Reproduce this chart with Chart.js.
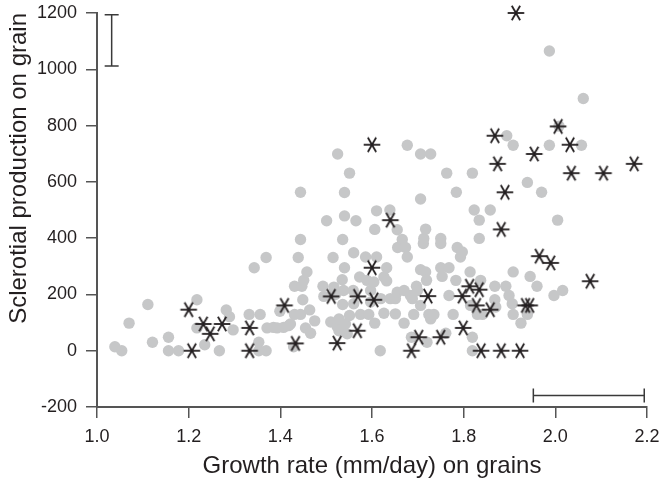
<!DOCTYPE html>
<html>
<head>
<meta charset="utf-8">
<script src="https://cdn.jsdelivr.net/npm/chart.js@4/dist/chart.umd.min.js"></script>
<style>
  html,body{margin:0;padding:0;background:#fff}
  #wrap{width:661px;height:482px;position:relative}
</style>
</head>
<body>
<div id="wrap"><canvas id="chart"></canvas></div>
<script>
// ---- datos ----
const growthGray = [1.039,1.054,1.070,1.111,1.121,1.156,1.156,1.178,1.218,1.218,1.235,1.267,1.282,1.289,1.297,1.332,1.356,1.353,1.353,1.369,
  1.343,1.369,1.371,1.385,1.393,1.399,1.407,1.418,1.422,1.429,1.431,1.431,1.439,1.444,1.444,1.444,1.447,1.449,1.451,1.455,
  1.458,1.464,1.466,1.475,1.493,1.495,1.501,1.510,1.515,1.517,1.520,1.524,1.525,1.528,1.528,1.535,1.536,1.536,1.538,1.540,
  1.540,1.540,1.542,1.546,1.551,1.551,1.559,1.560,1.560,1.565,1.573,1.575,1.586,1.589,1.593,1.597,1.597,1.606,1.604,1.606,
  1.610,1.610,1.618,1.619,1.626,1.626,1.632,1.632,1.639,1.640,1.651,1.651,1.655,1.655,1.656,1.666,1.670,1.670,1.673,1.677,
  1.677,1.684,1.686,1.688,1.691,1.697,1.699,1.706,1.706,1.706,1.706,1.712,1.713,1.717,1.717,1.719,1.720,1.724,1.728,1.728,
  1.735,1.750,1.750,1.750,1.753,1.761,1.763,1.768,1.768,1.777,1.783,1.784,1.786,1.793,1.797,1.814,1.815,1.819,1.819,1.819,
  1.823,1.830,1.834,1.834,1.837,1.841,1.858,1.868,1.868,1.870,1.892,1.894,1.899,1.906,1.908,1.908,1.908,1.925,1.939,1.939,
  1.945,1.960,1.970,1.987,1.987,1.997,2.005,2.008,2.016,2.057,2.061];
const sclerGray = [14,0,98,164,30,48,0,0,181,81,21,0,145,121,74,129,129,30,0,0,
  295,331,81,83,81,140,83,89,95,14,129,229,331,395,563,129,229,181,250,81,
  280,145,62,106,229,193,462,102,331,226,200,86,699,113,71,252,395,164,214,562,
  479,295,95,60,125,631,214,348,167,462,262,129,333,250,129,214,173,98,244,431,
  333,497,0,185,262,133,295,248,500,185,185,131,430,208,367,395,214,98,367,730,
  333,196,48,185,129,229,214,699,539,288,161,381,399,432,280,250,30,129,699,113,
  129,399,381,295,264,62,631,295,196,129,250,563,367,333,351,280,161,631,48,0,
  500,129,464,399,250,129,500,229,181,155,229,764,196,167,730,280,129,98,598,129,
  264,229,563,1065,730,196,464,798,214,730,896];

const growthStar = [1.200,1.207,1.232,1.247,1.273,1.333,1.333,1.409,1.433,1.511,1.524,1.569,1.568,1.604,1.600,1.600,
  1.640,1.686,1.702,1.722,1.750,1.797,1.799,1.813,1.828,1.834,1.838,1.858,1.868,1.874,1.882,1.882,1.890,1.914,1.923,
  1.935,1.944,1.954,1.965,1.990,2.006,2.032,2.035,2.076,2.105,2.172];
const sclerStar = [146,0,95,60,95,81,0,161,26,193,27,193,71,181,295,732,
  464,0,48,194,48,194,81,229,161,217,0,146,764,664,431,0,563,1200,0,
  161,161,699,336,312,797,732,631,247,631,664];

// barras de error: [x, yDesde, yHasta] y [y, xDesde, xHasta]
const errVertical = [1.032, 1012, 1194];
const errHorizontal = [-159, 1.952, 2.194];

const xTicks = [1.0, 1.2, 1.4, 1.6, 1.8, 2.0, 2.2];
const yTicks = [-200, 0, 200, 400, 600, 800, 1000, 1200];

// ---- marcador asterisco (6 puntas) ----
function crearAsterisco() {
  const c = document.createElement('canvas');
  c.width = 20; c.height = 18;
  const g = c.getContext('2d');
  g.strokeStyle = '#231f20'; g.lineWidth = 1.8; g.lineCap = 'butt';
  const cx = 10, cy = 9, r = 8.3;
  [0, 60, 120].forEach(a => {
    const t = a * Math.PI / 180;
    g.beginPath();
    g.moveTo(cx - r*Math.cos(t), cy - r*Math.sin(t));
    g.lineTo(cx + r*Math.cos(t), cy + r*Math.sin(t));
    g.stroke();
  });
  return c;
}

const errorBars = {
  id: 'errorBars',
  afterDatasetsDraw(chart) {
    const {ctx, scales:{x, y}} = chart, cap = 7;
    ctx.save();
    ctx.strokeStyle = '#3a3a3a'; ctx.lineWidth = 1.5;
    const vx = x.getPixelForValue(errVertical[0]), vy0 = y.getPixelForValue(errVertical[1]), vy1 = y.getPixelForValue(errVertical[2]);
    ctx.beginPath();
    ctx.moveTo(vx, vy0); ctx.lineTo(vx, vy1);
    ctx.moveTo(vx-cap, vy0); ctx.lineTo(vx+cap, vy0);
    ctx.moveTo(vx-cap, vy1); ctx.lineTo(vx+cap, vy1);
    const hy = y.getPixelForValue(errHorizontal[0]), hx0 = x.getPixelForValue(errHorizontal[1]), hx1 = x.getPixelForValue(errHorizontal[2]);
    ctx.moveTo(hx0, hy); ctx.lineTo(hx1, hy);
    ctx.moveTo(hx0, hy-cap); ctx.lineTo(hx0, hy+cap);
    ctx.moveTo(hx1, hy-cap); ctx.lineTo(hx1, hy+cap);
    ctx.stroke();
    ctx.restore();
  }
};

// el area del grafico la fija layout.padding, no el tamaño de las etiquetas
function sinRelleno(s) { s.paddingLeft = 0; s.paddingRight = 0; s.paddingTop = 0; s.paddingBottom = 0; }

const font = '"Liberation Sans", Arial, Helvetica, sans-serif';
const axisColor = '#555';
const textColor = '#231f20';

new Chart(document.getElementById('chart'), {
  type: 'scatter',
  data: {
    datasets: [
      { label: 'gris', order: 1, clip: false, data: growthGray.map((v,i)=>({x:v, y:sclerGray[i]})),
        pointStyle: 'circle', pointRadius: 5.7, backgroundColor: '#c6c7c8', borderWidth: 0 },
      { label: 'asterisco', order: 0, clip: false, data: growthStar.map((v,i)=>({x:v, y:sclerStar[i]})),
        pointStyle: crearAsterisco(), pointRadius: 8 }
    ]
  },
  options: {
    responsive: true, maintainAspectRatio: false, animation: false,
    layout: { padding: { left: 0, right: 14, top: 13, bottom: 0 } },
    plugins: { legend: { display: false }, tooltip: { enabled: false } },
    scales: {
      x: {
        type: 'linear', min: 1.0, max: 2.2,
        afterBuildTicks: s => { s.ticks = xTicks.map(v => ({value: v})); },
        afterFit: s => { s.height = 75; sinRelleno(s); },
        ticks: { color: textColor, font: { family: font, size: 18 }, padding: 8, callback: v => v.toFixed(1) },
        grid: { display: true, drawOnChartArea: false, drawTicks: true, tickLength: 11, color: axisColor, lineWidth: 1.5 },
        border: { display: true, color: axisColor, width: 2 },
        title: { display: true, text: 'Growth rate (mm/day) on grains', color: textColor,
          font: { family: font, size: 24 }, padding: { top: 0, bottom: 1 } }
      },
      y: {
        type: 'linear', min: -200, max: 1200,
        afterBuildTicks: s => { s.ticks = yTicks.map(v => ({value: v})); },
        afterFit: s => { s.width = 97; sinRelleno(s); },
        ticks: { color: textColor, font: { family: font, size: 18 }, padding: 9, callback: v => String(v) },
        grid: { display: true, drawOnChartArea: false, drawTicks: true, tickLength: 11, color: axisColor, lineWidth: 1.5 },
        border: { display: true, color: axisColor, width: 2 },
        title: { display: true, text: 'Sclerotial production on grain', color: textColor, align: 'end',
          font: { family: font, size: 24 }, padding: { top: 5, bottom: 0 } }
      }
    }
  },
  plugins: [errorBars]
});
</script>
</body>
</html>
